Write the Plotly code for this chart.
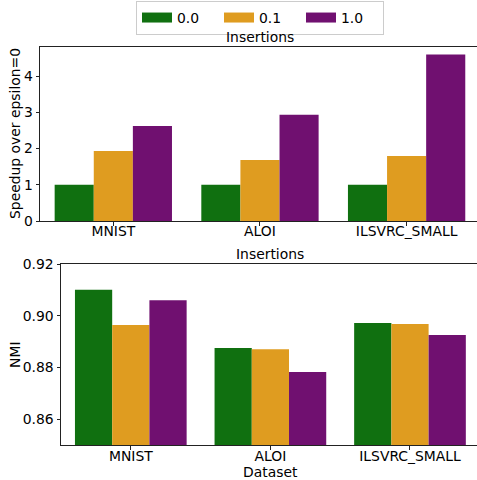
import plotly.graph_objects as go

# Datasets and epsilon settings
datasets = ["MNIST", "ALOI", "ILSVRC_SMALL"]
epsilons = ["0.0", "0.1", "1.0"]
colors = ["#107010", "#DF9C20", "#701070"]

# Speedup over epsilon=0 (insertions)
speedup = {
    "0.0": [1.0, 1.0, 1.0],
    "0.1": [1.93, 1.68, 1.79],
    "1.0": [2.62, 2.93, 4.59],
}

# NMI (insertions)
nmi = {
    "0.0": [0.9100, 0.8875, 0.8972],
    "0.1": [0.8964, 0.8870, 0.8968],
    "1.0": [0.9060, 0.8782, 0.8925],
}

W, H = 477, 480
FONT = "DejaVu Sans"
FS = 13.9
INK = "#222222"

fig = go.Figure()

for eps, col in zip(epsilons, colors):
    fig.add_trace(go.Bar(x=datasets, y=speedup[eps], marker=dict(color=col, line=dict(width=0)),
                         xaxis="x", yaxis="y", showlegend=False, offsetgroup=eps))
    fig.add_trace(go.Bar(x=datasets, y=nmi[eps], marker=dict(color=col, line=dict(width=0)),
                         xaxis="x2", yaxis="y2", showlegend=False, offsetgroup=eps))
    # wide legend swatch
    fig.add_trace(go.Scatter(x=[None], y=[None], mode="lines", name=eps,
                             line=dict(color=col, width=10), xaxis="x", yaxis="y"))


def px_x(p):
    return p / W


def px_y(p):
    return (H - p) / H


axis_common = dict(
    showline=True, linecolor=INK, linewidth=1,
    ticks="outside", ticklen=3.5, tickwidth=1, tickcolor=INK,
    showgrid=False, zeroline=False, automargin=False,
    tickfont=dict(family=FONT, size=FS, color="#000000"),
)

fig.update_layout(
    width=W, height=H,
    margin=dict(l=0, r=0, t=0, b=0, autoexpand=False),
    paper_bgcolor="white", plot_bgcolor="white",
    barmode="group", bargap=0.2, bargroupgap=0,
    font=dict(family=FONT, size=FS, color="#000000"),
    xaxis=dict(domain=[px_x(40), 1], anchor="y", range=[-0.5, 2.48], mirror=True,
               ticklabelstandoff=-6, **axis_common),
    yaxis=dict(domain=[px_y(221), px_y(47)], anchor="x", range=[0, 4.8],
               tickvals=[0, 1, 2, 3, 4], **axis_common),
    xaxis2=dict(domain=[px_x(61), 1], anchor="y2", range=[-0.5, 2.48], mirror=True,
                ticklabelstandoff=-5, **axis_common),
    yaxis2=dict(domain=[px_y(445), px_y(264)], anchor="x2", range=[0.85, 0.92],
                tickvals=[0.86, 0.88, 0.90, 0.92], tickformat=".2f", **axis_common),
    legend=dict(
        orientation="h", x=px_x(260), xanchor="center", y=px_y(1), yanchor="top",
        bordercolor="#cccccc", borderwidth=1, bgcolor="white",
        font=dict(family=FONT, size=FS), entrywidth=37, entrywidthmode="pixels",
        itemwidth=30, tracegroupgap=0,
    ),
    annotations=[
        dict(text="Insertions", xref="x", yref="paper", x=1, y=px_y(37),
             xanchor="center", yanchor="middle", showarrow=False, font=dict(size=FS)),
        dict(text="Insertions", xref="x2", yref="paper", x=1, y=px_y(254),
             xanchor="center", yanchor="middle", showarrow=False, font=dict(size=FS)),
        dict(text="Speedup over epsilon=0", xref="paper", yref="paper", x=px_x(15), y=px_y(134),
             xanchor="center", yanchor="middle", textangle=-90, showarrow=False, font=dict(size=FS)),
        dict(text="NMI", xref="paper", yref="paper", x=px_x(15), y=px_y(355),
             xanchor="center", yanchor="middle", textangle=-90, showarrow=False, font=dict(size=FS)),
        dict(text="Dataset", xref="x2", yref="paper", x=1, y=px_y(472),
             xanchor="center", yanchor="middle", showarrow=False, font=dict(size=FS)),
    ],
)

fig.write_html("out.html")
